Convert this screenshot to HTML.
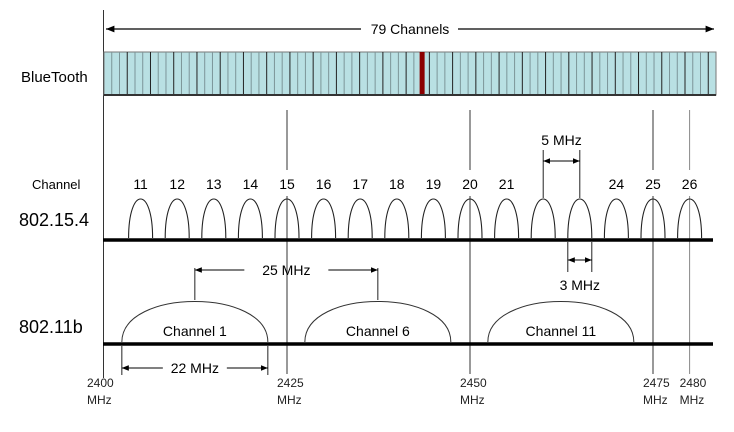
<!DOCTYPE html>
<html><head><meta charset="utf-8"><style>
html,body{margin:0;padding:0;background:#fff;}
svg{display:block;font-family:"Liberation Sans",Arial,sans-serif;}
</style></head><body>
<svg id="chart" width="734" height="432" viewBox="0 0 734 432" xmlns="http://www.w3.org/2000/svg">
<defs>
<marker id="ah" viewBox="0 0 10 10" refX="10" refY="5" markerWidth="7" markerHeight="7" orient="auto-start-reverse"><path d="M0,1 L10,5 L0,9 z" fill="#000"/></marker>
</defs>
<g id="static">
<text x="21" y="82" font-size="15">BlueTooth</text>
<text x="32" y="189" font-size="13">Channel</text>
<text x="19" y="226" font-size="18">802.15.4</text>
<text x="19" y="333" font-size="18">802.11b</text>
<line x1="103.5" y1="10" x2="103.5" y2="378" stroke="#333" stroke-width="1"/>
<line x1="106" y1="29" x2="361" y2="29" stroke="#000" stroke-width="1.2" marker-start="url(#ah)"/>
<line x1="458" y1="29" x2="714" y2="29" stroke="#000" stroke-width="1.2" marker-end="url(#ah)"/>
<text x="410" y="34" font-size="14" text-anchor="middle">79 Channels</text>
</g>
<g id="marks"></g>
</svg>
<script>
const btChannelCount = 79;
const btActiveChannel = 41;
const zigbeeChannels = [11,12,13,14,15,16,17,18,19,20,21,22,23,24,25,26];
const zigbeeLabels = ["11","12","13","14","15","16","17","18","19","20","21","","","24","25","26"];
const wifiChannels = [1,6,11];
const wifiCenters = [2412,2437,2462];
const freqTicks = [2400,2425,2450,2475,2480];

const NS="http://www.w3.org/2000/svg";
const g=document.getElementById('marks');
function mk(t,a,txt){const e=document.createElementNS(NS,t);for(const k in a)e.setAttribute(k,a[k]);if(txt!==undefined)e.textContent=txt;g.appendChild(e);return e;}
function xf(f){return 104+(f-2400)*7.32;}
function zf(ch){return 2405+5*(ch-11);}

const bx0=104,bx1=716,bw=(bx1-bx0)/btChannelCount;
let bar=mk('rect',{x:bx0,y:52,width:bx1-bx0,height:43,fill:'#b9e0e3',stroke:'#777','stroke-width':1});


for(let i=1;i<btChannelCount;i++){
  const x=bx0+i*bw;
  const l=mk('line',{x1:x,y1:52,x2:x,y2:95,stroke:(i%3===0)?'#222':'#7c9598','stroke-width':1});
  
  
}
let act=mk('rect',{x:bx0+btActiveChannel*bw-2,y:52,width:5,height:43,fill:'#8b0000'});


let bb=mk('line',{x1:bx0,y1:95,x2:bx1,y2:95,stroke:'#333','stroke-width':2});



freqTicks.forEach((f,i)=>{
  const x=xf(f);
  if(i>0){
    const c=f===2480?'#888':'#333';
    const a=mk('line',{x1:x,y1:110,x2:x,y2:170,stroke:c,'stroke-width':1});
    
    
    const b=mk('line',{x1:x,y1:196,x2:x,y2:374,stroke:c,'stroke-width':1});
    
    
  }
  const t=mk('text',{x:x-(i===0?17:10),y:387,'font-size':12,fill:'#222'},String(f));
  
  
  const t2=mk('text',{x:x-(i===0?17:10),y:404,'font-size':12,fill:'#222'},'MHz');
  
  
});

zigbeeChannels.forEach((ch,i)=>{
  const x=xf(zf(ch));
  const p=mk('path',{d:`M${x-12},238 C${x-12},186 ${x+12},186 ${x+12},238`,fill:'none',stroke:'#222','stroke-width':1.1});
  
  
  if(zigbeeLabels[i]){
    const t=mk('text',{x:x,y:189,'font-size':14,'text-anchor':'middle'},zigbeeLabels[i]);
    
    
  }
});
let zb=mk('line',{x1:103,y1:240,x2:713,y2:240,stroke:'#000','stroke-width':3.5});



wifiChannels.forEach((ch,i)=>{
  const x=xf(wifiCenters[i])+3;
  const p=mk('path',{d:`M${x-73},342 C${x-73},288 ${x+73},288 ${x+73},342`,fill:'none',stroke:'#333','stroke-width':1});
  
  
  const t=mk('text',{x:x,y:336,'font-size':14,'text-anchor':'middle'},'Channel '+ch);
  
  
});
let wb=mk('line',{x1:103,y1:344,x2:713,y2:344,stroke:'#000','stroke-width':3.5});



function dim(name,xa,xb,y,ly0,ly1,label,ty,gap){
  [xa,xb].forEach(x=>{const l=mk('line',{x1:x,y1:ly0,x2:x,y2:ly1,stroke:'#222','stroke-width':1});
    
    });
  const m=(xa+xb)/2;
  if(gap){
    const a=mk('line',{x1:m-gap,y1:y,x2:xa,y2:y,stroke:'#000','stroke-width':1,'marker-end':'url(#ah)'});
    
    
    const b=mk('line',{x1:m+gap,y1:y,x2:xb,y2:y,stroke:'#000','stroke-width':1,'marker-end':'url(#ah)'});
    
    
  } else {
    const a=mk('line',{x1:xa,y1:y,x2:xb,y2:y,stroke:'#000','stroke-width':1,'marker-start':'url(#ah)','marker-end':'url(#ah)'});
    
    
  }
  const t=mk('text',{x:m,y:ty,'font-size':14,'text-anchor':'middle'},label);
  
  
}
dim('spacing-5mhz',xf(zf(22)),xf(zf(23)),161,150,198,'5 MHz',145,0);
dim('width-3mhz',xf(zf(23))-12,xf(zf(23))+12,260,242,272,'3 MHz',290,0);
dim('spacing-25mhz',xf(wifiCenters[0])+3,xf(wifiCenters[1])+3,270,268,300,'25 MHz',275,42);
dim('width-22mhz',xf(wifiCenters[0])-70,xf(wifiCenters[0])+76,368,346,375,'22 MHz',373,32);
</script>
</body></html>
